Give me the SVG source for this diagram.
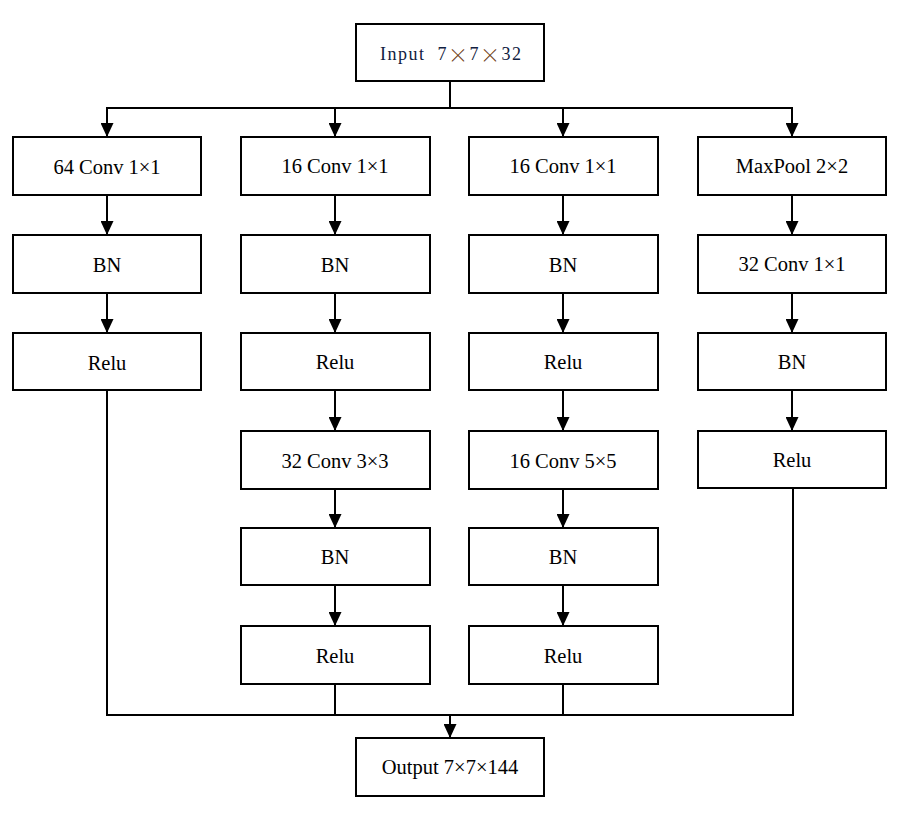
<svg xmlns="http://www.w3.org/2000/svg" width="905" height="813" viewBox="0 0 905 813">
<defs>
<marker id="arr" markerWidth="14" markerHeight="13" refX="14" refY="6.5" orient="auto" markerUnits="userSpaceOnUse" viewBox="0 0 14 13">
<path d="M0,0 L14,6.5 L0,13 Z" fill="#000"/>
</marker>
<style>
.n rect{fill:#fff;stroke:#000;stroke-width:2}
text{font-family:"Liberation Serif","Times New Roman",serif;font-size:20.5px;fill:#000;text-anchor:middle;dominant-baseline:central}
#connectors path{stroke:#000;stroke-width:2;fill:none}
.a{marker-end:url(#arr)}
.fw{font-family:"Noto Sans CJK SC",sans-serif;font-weight:300;font-size:20px;fill:#6b3a10}
</style>
</defs>
<rect width="905" height="813" fill="#fff"/>
<g id="connectors">
<path d="M450,81 V108 M106,108 H793 M107,390 V715 H793 V488 M335,684 V715 M563,684 V715"/>
<path class="a" d="M107,108 V137"/>
<path class="a" d="M335,108 V137"/>
<path class="a" d="M563,108 V137"/>
<path class="a" d="M792,108 V137"/>
<path class="a" d="M107,195 V235"/>
<path class="a" d="M107,293 V333"/>
<path class="a" d="M335,195 V235"/>
<path class="a" d="M335,293 V333"/>
<path class="a" d="M335,390 V431"/>
<path class="a" d="M335,489 V528"/>
<path class="a" d="M335,585 V626"/>
<path class="a" d="M563,195 V235"/>
<path class="a" d="M563,293 V333"/>
<path class="a" d="M563,390 V431"/>
<path class="a" d="M563,489 V528"/>
<path class="a" d="M563,585 V626"/>
<path class="a" d="M792,195 V235"/>
<path class="a" d="M792,293 V333"/>
<path class="a" d="M792,390 V431"/>
<path class="a" d="M450,715 V738"/>
</g>
<g id="input" class="n"><rect x="356" y="24" width="188" height="57"/><text x="450.5" y="54" textLength="141" lengthAdjust="spacing" style="font-size:18px;fill:#102040" xml:space="preserve">Input  7<tspan class="fw">×</tspan>7<tspan class="fw">×</tspan>32</text></g>
<g id="c1r1" class="n"><rect x="13" y="137" width="188" height="58"/><text x="107" y="167">64 Conv 1×1</text></g>
<g id="c1r2" class="n"><rect x="13" y="235" width="188" height="58"/><text x="107" y="265">BN</text></g>
<g id="c1r3" class="n"><rect x="13" y="333" width="188" height="57"/><text x="107" y="363">Relu</text></g>
<g id="c2r1" class="n"><rect x="241" y="137" width="189" height="58"/><text x="335" y="166">16 Conv 1×1</text></g>
<g id="c2r2" class="n"><rect x="241" y="235" width="189" height="58"/><text x="335" y="265">BN</text></g>
<g id="c2r3" class="n"><rect x="241" y="333" width="189" height="57"/><text x="335" y="362">Relu</text></g>
<g id="c2r4" class="n"><rect x="241" y="431" width="189" height="58"/><text x="335" y="461">32 Conv 3×3</text></g>
<g id="c2r5" class="n"><rect x="241" y="528" width="189" height="57"/><text x="335" y="557">BN</text></g>
<g id="c2r6" class="n"><rect x="241" y="626" width="189" height="58"/><text x="335" y="656">Relu</text></g>
<g id="c3r1" class="n"><rect x="469" y="137" width="189" height="58"/><text x="563" y="166">16 Conv 1×1</text></g>
<g id="c3r2" class="n"><rect x="469" y="235" width="189" height="58"/><text x="563" y="265">BN</text></g>
<g id="c3r3" class="n"><rect x="469" y="333" width="189" height="57"/><text x="563" y="362">Relu</text></g>
<g id="c3r4" class="n"><rect x="469" y="431" width="189" height="58"/><text x="563" y="461">16 Conv 5×5</text></g>
<g id="c3r5" class="n"><rect x="469" y="528" width="189" height="57"/><text x="563" y="557">BN</text></g>
<g id="c3r6" class="n"><rect x="469" y="626" width="189" height="58"/><text x="563" y="656">Relu</text></g>
<g id="c4r1" class="n"><rect x="698" y="137" width="188" height="58"/><text x="792" y="166">MaxPool 2×2</text></g>
<g id="c4r2" class="n"><rect x="698" y="235" width="188" height="58"/><text x="792" y="264">32 Conv 1×1</text></g>
<g id="c4r3" class="n"><rect x="698" y="333" width="188" height="57"/><text x="792" y="362">BN</text></g>
<g id="c4r4" class="n"><rect x="698" y="431" width="188" height="57"/><text x="792" y="460">Relu</text></g>
<g id="output" class="n"><rect x="356" y="738" width="188" height="58"/><text x="450" y="767">Output 7×7×144</text></g>
</svg>
